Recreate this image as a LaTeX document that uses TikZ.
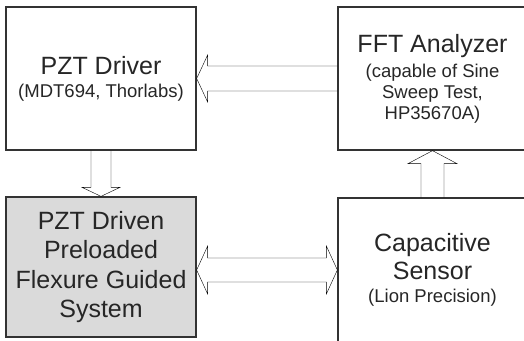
\documentclass[tikz,border=0pt]{standalone}
\usepackage{fontspec}
\setmainfont{Liberation Sans}
\usetikzlibrary{calc,positioning}

\definecolor{boxline}{HTML}{333333}
\definecolor{arrowline}{HTML}{4A4A4A}
\definecolor{plantfill}{HTML}{DADADA}
\definecolor{txt}{HTML}{262626}

\newcommand{\bigtxt}{\fontsize{25}{29.5}\selectfont}
\newcommand{\subtxt}{\fontsize{18.5}{21}\selectfont}

\begin{document}
\begin{tikzpicture}[
x=1pt,y=1pt,
block/.style={
	draw=boxline,
	line width=1.3pt,
	minimum width=190pt,
	inner sep=0pt,
	align=center,
	text=txt,
	font=\bigtxt
},
% hollow arrow: shaft half width, head half width, head length
hollow/.style n args={3}{
	draw=arrowline,
	line width=1pt,
	to path={
		($(\tikztostart)!#1!90:(\tikztotarget)$)
		-- ($(\tikztotarget)!#3!(\tikztostart)!#1!90:(\tikztotarget)$)
		-- ($(\tikztotarget)!#3!(\tikztostart)!#2!90:(\tikztotarget)$)
		-- (\tikztotarget)
		-- ($(\tikztotarget)!#3!(\tikztostart)!#2!-90:(\tikztotarget)$)
		-- ($(\tikztotarget)!#3!(\tikztostart)!#1!-90:(\tikztotarget)$)
		-- ($(\tikztostart)!#1!-90:(\tikztotarget)$)
	}
},
hollowboth/.style n args={3}{
	draw=arrowline,
	line width=1pt,
	to path={
		(\tikztostart)
		-- ($(\tikztostart)!#3!(\tikztotarget)!#2!90:(\tikztotarget)$)
		-- ($(\tikztostart)!#3!(\tikztotarget)!#1!90:(\tikztotarget)$)
		-- ($(\tikztotarget)!#3!(\tikztostart)!#1!90:(\tikztotarget)$)
		-- ($(\tikztotarget)!#3!(\tikztostart)!#2!90:(\tikztotarget)$)
		-- (\tikztotarget)
		-- ($(\tikztotarget)!#3!(\tikztostart)!#2!-90:(\tikztotarget)$)
		-- ($(\tikztotarget)!#3!(\tikztostart)!#1!-90:(\tikztotarget)$)
		-- ($(\tikztostart)!#3!(\tikztotarget)!#1!-90:(\tikztotarget)$)
		-- ($(\tikztostart)!#3!(\tikztotarget)!#2!-90:(\tikztotarget)$)
		-- cycle
	}
}
]
\useasboundingbox (0,0) rectangle (524,340);

\node[block,minimum height=143pt] (drv) at (101,261.5)
	{PZT Driver\\[-6.5pt]{\subtxt (MDT694, Thorlabs)}};
\node[block,minimum height=143pt,minimum width=189pt] (fft) at (432.5,261.5)
	{FFT Analyzer\\[-4.5pt]{\subtxt (capable of Sine}\\[-8.5pt]%
	{\subtxt Sweep Test,}\\[-8.5pt]{\subtxt HP35670A)}};
\node[block,fill=plantfill,minimum height=140pt] (plant) at (101,73)
	{PZT Driven\\Preloaded\\Flexure Guided\\System};
\node[block,minimum height=144pt,minimum width=189pt] (sens) at (432.5,70)
	{Capacitive\\[-1.5pt]Sensor\\[-6.5pt]{\subtxt (Lion Precision)}};

\draw (fft.west) to[hollow={12.5pt}{23.5pt}{11pt}] (drv.east);
\draw (drv.south) to[hollow={10pt}{19pt}{9pt}] (plant.north);
\draw (sens.north) to[hollow={11.5pt}{24.5pt}{13pt}] (fft.south);
\draw (plant.east |- sens.west) to[hollowboth={12pt}{24pt}{11pt}] (sens.west);
\end{tikzpicture}
\end{document}
